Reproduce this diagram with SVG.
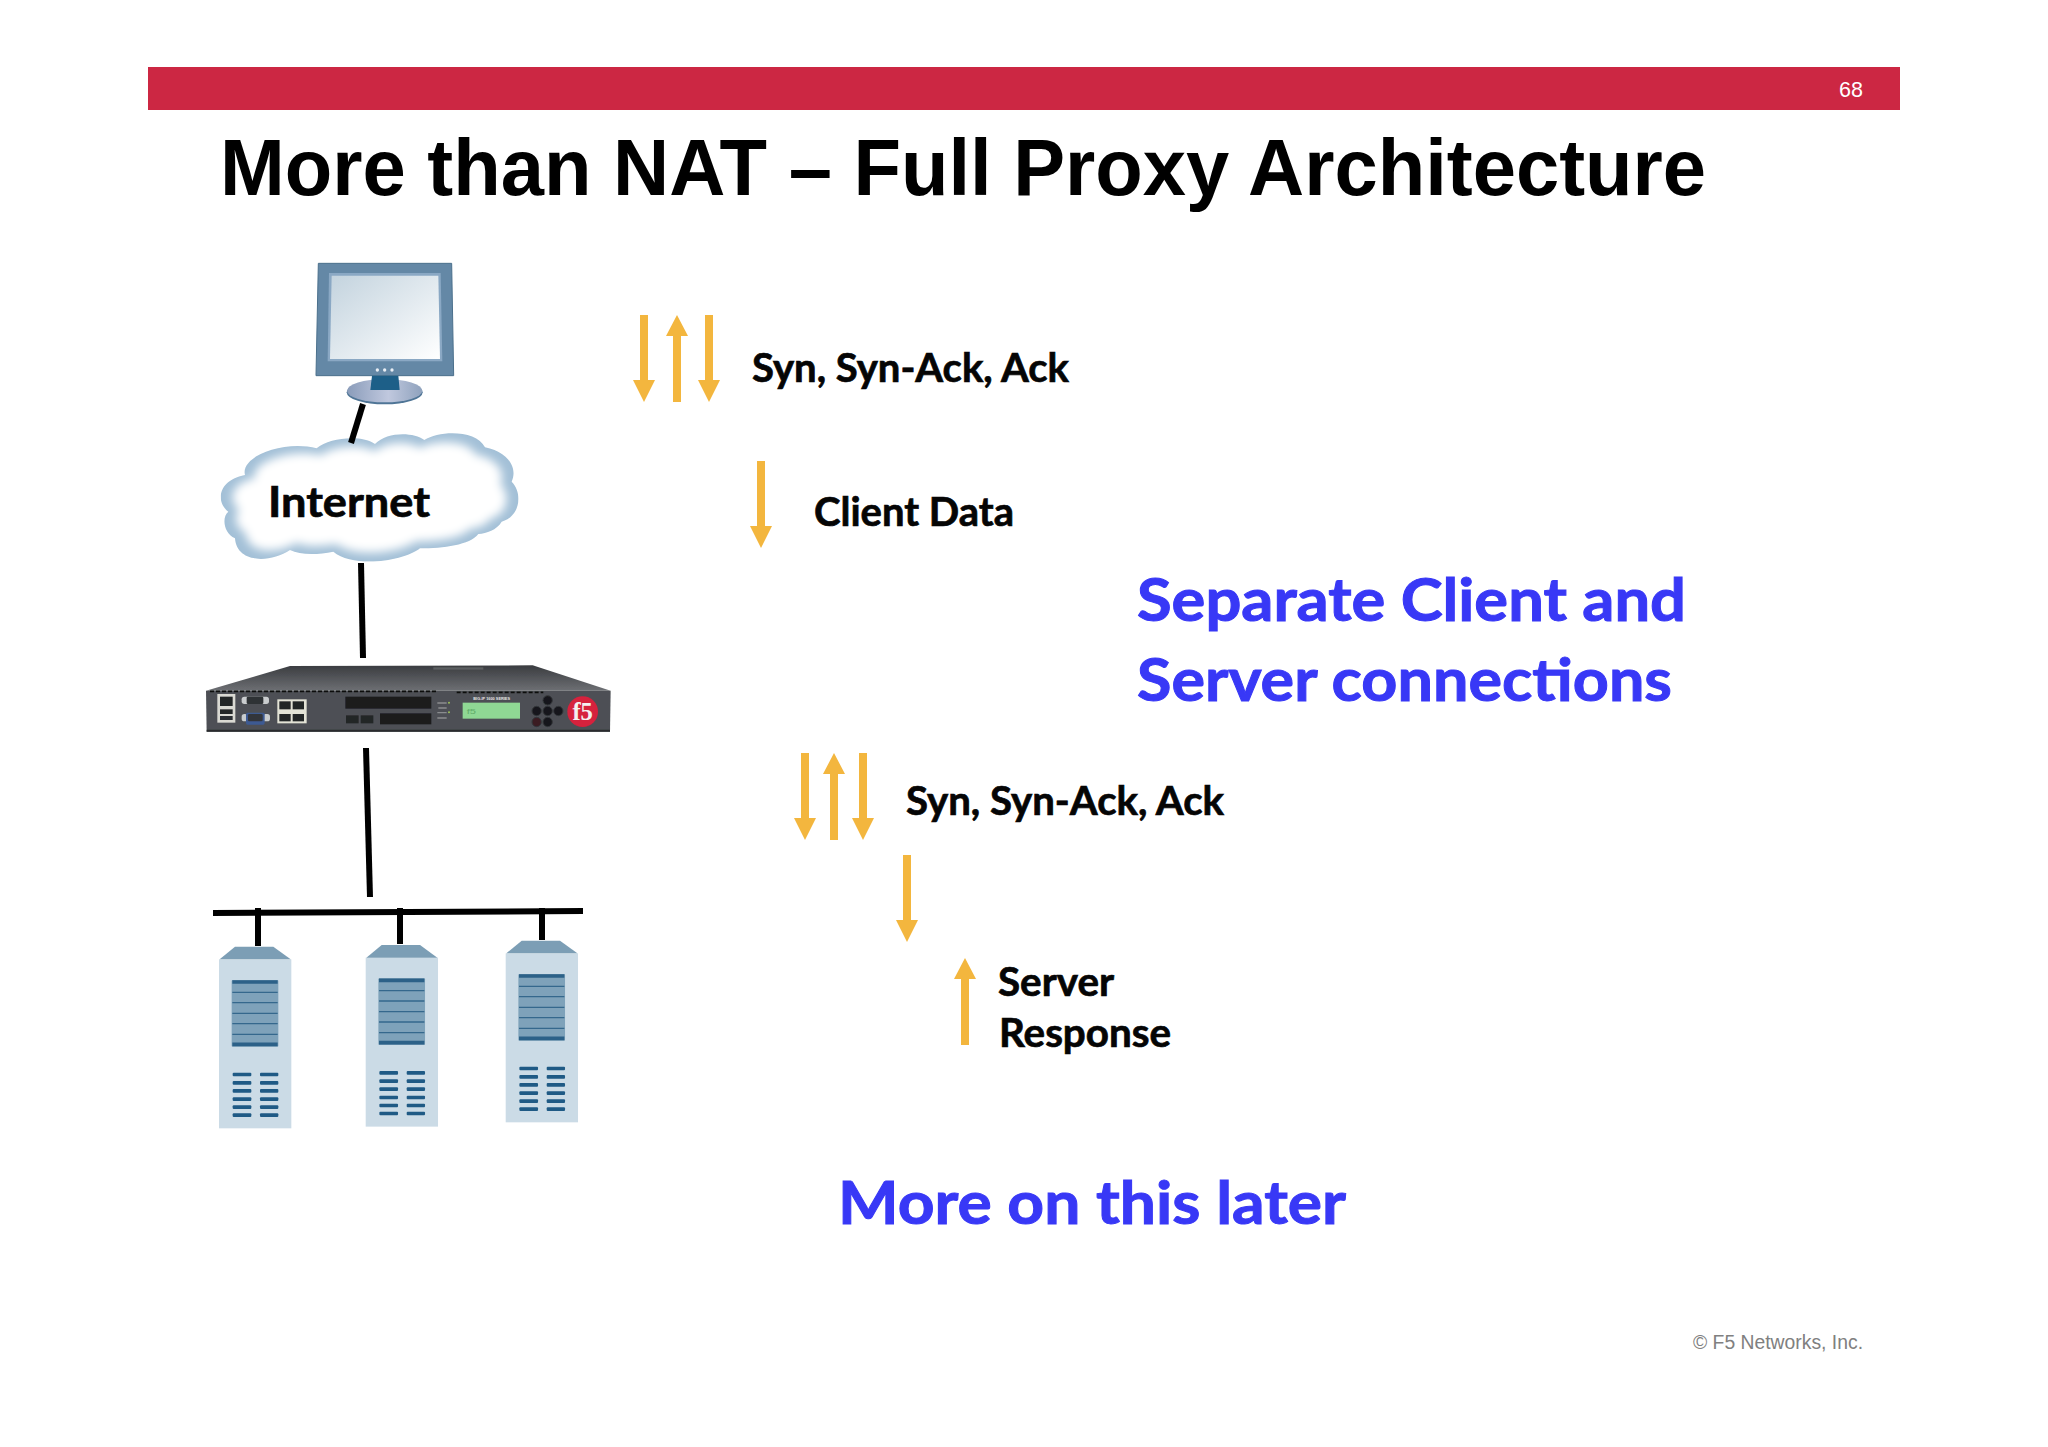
<svg xmlns="http://www.w3.org/2000/svg" xmlns:xlink="http://www.w3.org/1999/xlink" width="2048" height="1447" viewBox="0 0 2048 1447">
<style>
text{font-family:"Liberation Sans",Arial,sans-serif}
.c{font-family:Lato,"Carlito","Open Sans",sans-serif;font-weight:700;fill:#050505;stroke:#050505;stroke-width:.7}
.b{font-family:Lato,"Carlito","Open Sans",sans-serif;font-weight:700;fill:#3838f6;stroke:#3838f6;stroke-width:1}
.l{fill:none;stroke:#000;stroke-width:6}
.a{fill:#f3b63e}
.bar{fill:#1f5a85}
.slat{stroke:#34688d;stroke-width:4;fill:none}
.vent{fill:#1a1b1e}
.jack{fill:#232528}
.btn{fill:#17181b;stroke:#33363a;stroke-width:3}
</style>
<defs>
<linearGradient id="scr" x1="0" y1="0" x2="1" y2="1"><stop offset="0" stop-color="#c3d3de"/><stop offset="1" stop-color="#ffffff"/></linearGradient>
<linearGradient id="top" x1="0" y1="0" x2="0" y2="1"><stop offset="0" stop-color="#3a3c40"/><stop offset="1" stop-color="#6d6f73"/></linearGradient>
<linearGradient id="base" x1="0" y1="0" x2="1" y2="0"><stop offset="0" stop-color="#8a9cba"/><stop offset=".55" stop-color="#c0c8de"/><stop offset="1" stop-color="#8fa2bd"/></linearGradient>
<filter id="blur" x="-20%" y="-20%" width="140%" height="140%"><feGaussianBlur stdDeviation="16"/></filter>
<filter id="soft" x="-5%" y="-5%" width="110%" height="110%"><feGaussianBlur stdDeviation="2"/></filter>
<path id="cloudShape" d="M380 625C420 590 520 585 555 612C590 575 670 575 703 600C750 570 860 570 885 622C950 635 985 680 965 725C1000 760 990 830 935 845C920 870 890 880 865 882C840 915 760 925 690 925C640 965 490 985 430 935C380 945 330 945 300 930C240 970 140 970 135 895C100 880 95 830 115 815C75 785 85 720 165 705C150 650 280 600 380 625Z"/>
<clipPath id="cloudClip"><use href="#cloudShape"/></clipPath>
<polygon id="down" points="-4,0 4,0 4,65 11,65 0,87 -11,65 -4,65"/>
<polygon id="up" points="0,0 11,21 4,21 4,87 -4,87 -4,21 -11,21"/>
<g id="server">
<rect x="87" y="178" width="217" height="507" fill="#cbdbe6"/>
<polygon points="135,140 250,140 302,178 89,178" fill="#7c9eb5"/>
<rect x="125" y="240" width="140" height="200" rx="3" fill="#7ea2ba"/>
<path class="slat" d="M127 277H263M127 308H263M127 340H263M127 371H263M127 403H263"/>
<path d="M127 246H263M127 433H263" stroke="#2c6188" stroke-width="11" fill="none"/>
<g class="bar">
<rect x="128" y="518" width="56" height="11" rx="3"/><rect x="210" y="518" width="55" height="11" rx="3"/>
<rect x="128" y="543" width="56" height="11" rx="3"/><rect x="210" y="543" width="55" height="11" rx="3"/>
<rect x="128" y="567" width="56" height="11" rx="3"/><rect x="210" y="567" width="55" height="11" rx="3"/>
<rect x="128" y="592" width="56" height="11" rx="3"/><rect x="210" y="592" width="55" height="11" rx="3"/>
<rect x="128" y="616" width="56" height="11" rx="3"/><rect x="210" y="616" width="55" height="11" rx="3"/>
<rect x="128" y="640" width="56" height="11" rx="3"/><rect x="210" y="640" width="55" height="11" rx="3"/>
</g>
</g>
</defs>
<rect width="2048" height="1447" fill="#fff"/>

<g id="header">
<rect x="148" y="67" width="1752" height="43" fill="#cc2743"/>
<text x="1839" y="97" font-size="22" fill="#fff" textLength="24" lengthAdjust="spacingAndGlyphs">68</text>
<text x="220" y="195" font-size="80" font-weight="700" fill="#000" textLength="1486" lengthAdjust="spacingAndGlyphs">More than NAT – Full Proxy Architecture</text>
</g>

<g id="monitor" transform="translate(190 240) scale(.33333)">
<polygon points="385,70 785,70 791,407 378,407" fill="#6488a6" stroke="#4a6f8c" stroke-width="3"/>
<polygon points="417,99 752,99 757,364 413,364" fill="#8aa8c4"/>
<polygon points="425,107 745,107 750,357 420,357" fill="url(#scr)"/>
<circle cx="562" cy="390" r="5" fill="#e8eef4"/><circle cx="584" cy="390" r="5" fill="#e8eef4"/><circle cx="606" cy="390" r="5" fill="#e8eef4"/>
<ellipse cx="584" cy="457" rx="114" ry="36" fill="#4f7596"/>
<ellipse cx="584" cy="452" rx="113" ry="35" fill="url(#base)"/>
<polygon points="546,407 625,407 629,450 541,450" fill="#1d5f88"/>
</g>

<g id="internet">
<g transform="translate(190 240) scale(.33333)" filter="url(#soft)">
<g clip-path="url(#cloudClip)">
<rect x="60" y="550" width="960" height="440" fill="#a3c0d7"/>
<use href="#cloudShape" transform="translate(537 773) scale(.92 .86) translate(-537 -773)" fill="#fff" filter="url(#blur)"/>
</g>
</g>
<text class="c" x="268" y="517" font-size="42" textLength="162" lengthAdjust="spacingAndGlyphs">Internet</text>
</g>

<g id="proxy" transform="translate(190 640) scale(.33333)">
<g filter="url(#soft)">
<polygon points="300,78 1028,76 1262,152 48,152" fill="url(#top)"/>
<rect x="730" y="82" width="150" height="7" fill="#5c5e62"/>
<path d="M48 152H1262L1260 275H50Z" fill="#4d5055"/>
<path d="M60 154H740M800 157H1060" stroke="#111" stroke-width="5" stroke-dasharray="12 6" fill="none"/>
<path d="M50 272H1260" stroke="#2a2c2f" stroke-width="6" fill="none"/>
<rect x="82" y="162" width="54" height="86" fill="#d9d9d2"/>
<rect x="90" y="170" width="38" height="28" class="jack"/>
<rect x="90" y="208" width="38" height="14" class="jack"/><rect x="90" y="228" width="38" height="12" fill="#2c2e31"/>
<rect x="155" y="170" width="82" height="22" rx="8" fill="#c9ccce"/>
<rect x="170" y="170" width="50" height="22" rx="4" fill="#2f3134"/>
<rect x="155" y="222" width="85" height="22" rx="8" fill="#c9ccce"/>
<rect x="168" y="218" width="56" height="36" rx="5" fill="#3e5a92"/>
<rect x="174" y="222" width="44" height="22" rx="4" fill="#33363a"/>
<rect x="262" y="178" width="88" height="72" fill="#e3e3d6"/>
<rect x="268" y="184" width="34" height="24" class="jack"/><rect x="308" y="184" width="34" height="24" class="jack"/>
<rect x="268" y="222" width="34" height="22" class="jack"/><rect x="308" y="222" width="34" height="22" class="jack"/>
<rect x="466" y="170" width="258" height="36" class="vent"/>
<rect x="468" y="226" width="38" height="24" class="jack"/><rect x="512" y="226" width="38" height="24" class="jack"/>
<rect x="570" y="220" width="154" height="33" class="vent"/>
<path d="M742 189H770M745 204H770M742 218H770M742 234H770" stroke="#8a8c8f" stroke-width="4" fill="none"/>
<circle cx="777" cy="188" r="3" fill="#9bbf5a"/><circle cx="777" cy="217" r="3" fill="#9bbf5a"/>
<rect x="818" y="188" width="172" height="48" fill="#8fd894"/>
<circle class="btn" cx="1073" cy="181" r="14"/><circle class="btn" cx="1040" cy="213" r="14"/><circle class="btn" cx="1073" cy="213" r="14"/><circle class="btn" cx="1105" cy="213" r="14"/><circle class="btn" cx="1040" cy="246" r="14" style="fill:#3a1d24"/><circle class="btn" cx="1073" cy="246" r="14"/>
<circle cx="1178" cy="215" r="46" fill="#d6203c"/>
</g>
<text x="850" y="180" font-size="11" font-weight="700" fill="#e6e6e6" textLength="110" lengthAdjust="spacingAndGlyphs">BIG-IP 1600 SERIES</text>
<text x="830" y="222" font-size="24" fill="#62ad6a" textLength="28" lengthAdjust="spacingAndGlyphs">f5</text>
<text x="1178" y="241" font-size="74" font-weight="700" fill="#f4f0f0" text-anchor="middle" style="font-family:'Liberation Serif',serif">f5</text>
</g>

<g id="server-1" transform="translate(190 900) scale(.33333)"><use href="#server"/></g>
<g id="server-2" transform="translate(336.7 898.3) scale(.33333)"><use href="#server"/></g>
<g id="server-3" transform="translate(476.7 894) scale(.33333)"><use href="#server"/></g>

<g id="connectors">
<path class="l" d="M363 404L351 443"/>
<path class="l" d="M361 563L363 658"/>
<path class="l" d="M366 748L370 897"/>
<path class="l" d="M213 913L583 911"/>
<path class="l" d="M258 908V946"/>
<path class="l" d="M400 908V944"/>
<path class="l" d="M542 908V940"/>
</g>

<g id="arrows-client" class="a">
<use href="#down" x="644" y="315"/>
<use href="#up" x="677" y="315"/>
<use href="#down" x="709" y="315"/>
<use href="#down" x="761" y="461"/>
</g>
<g id="arrows-server" class="a">
<use href="#down" x="805" y="753"/>
<use href="#up" x="834" y="753"/>
<use href="#down" x="863" y="753"/>
<use href="#down" x="907" y="855"/>
<use href="#up" x="965" y="958"/>
</g>

<g id="labels">
<text class="c" x="752" y="382" font-size="40" textLength="317" lengthAdjust="spacingAndGlyphs">Syn, Syn-Ack, Ack</text>
<text class="c" x="814" y="526" font-size="40" textLength="200" lengthAdjust="spacingAndGlyphs">Client Data</text>
<text class="c" x="906" y="815" font-size="40" textLength="318" lengthAdjust="spacingAndGlyphs">Syn, Syn-Ack, Ack</text>
<text class="c" x="998" y="996" font-size="40" textLength="116" lengthAdjust="spacingAndGlyphs">Server</text>
<text class="c" x="999" y="1047" font-size="40" textLength="172" lengthAdjust="spacingAndGlyphs">Response</text>
<text class="b" x="1137" y="621" font-size="60" textLength="549" lengthAdjust="spacingAndGlyphs">Separate Client and</text>
<text class="b" x="1137" y="701" font-size="60" textLength="535" lengthAdjust="spacingAndGlyphs">Server connections</text>
<text class="b" x="838" y="1224" font-size="60" textLength="508" lengthAdjust="spacingAndGlyphs">More on this later</text>
<text x="1693" y="1349" font-size="20" fill="#808080" textLength="170" lengthAdjust="spacingAndGlyphs">© F5 Networks, Inc.</text>
</g>
</svg>
